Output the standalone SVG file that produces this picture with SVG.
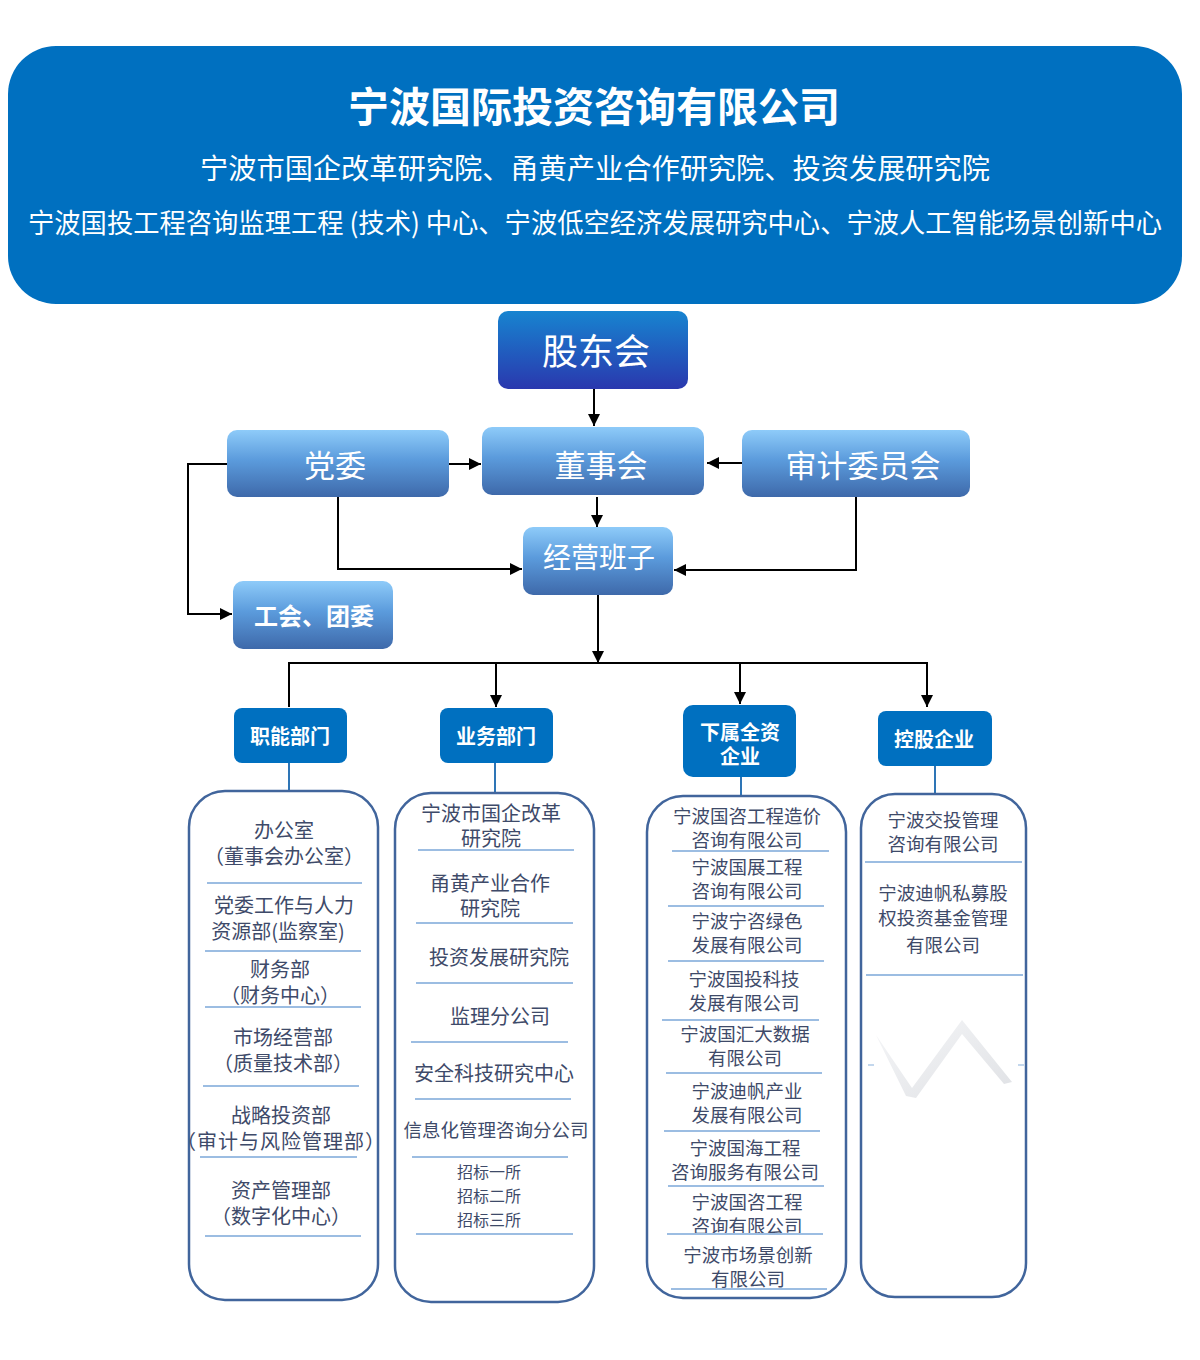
<svg xmlns="http://www.w3.org/2000/svg" width="1200" height="1360" viewBox="0 0 1200 1360">
<defs>
<linearGradient id="gTop" x1="0" y1="0" x2="0" y2="1">
<stop offset="0" stop-color="#1784d0"/><stop offset="1" stop-color="#2a38ae"/>
</linearGradient>
<linearGradient id="gMid" x1="0" y1="0" x2="0" y2="1">
<stop offset="0" stop-color="#8ecbf9"/><stop offset="0.45" stop-color="#5b9bdc"/><stop offset="1" stop-color="#3e69aa"/>
</linearGradient>
<linearGradient id="gWm" x1="0" y1="0" x2="1" y2="1">
<stop offset="0" stop-color="#f4f5f7"/><stop offset="1" stop-color="#dcdee2"/>
</linearGradient>
<marker id="arr" markerUnits="userSpaceOnUse" markerWidth="14" markerHeight="12" refX="12" refY="6" orient="auto" viewBox="0 0 14 12">
<path d="M0,0 L12,6 L0,12 z" fill="#000"/>
</marker>
<style>
text{font-family:"Noto Sans CJK SC","Noto Sans",sans-serif;}
.hdr{fill:#ffffff;text-anchor:middle;dominant-baseline:central;}
.wt{fill:#ffffff;text-anchor:middle;dominant-baseline:central;}
.cat{fill:#0070c0;}
.catt{fill:#ffffff;text-anchor:middle;dominant-baseline:central;font-size:20px;font-weight:bold;}
.list{fill:#ffffff;stroke:#41659c;stroke-width:2.5;}
.it{fill:#3e4a69;text-anchor:middle;dominant-baseline:central;font-size:20px;}
.it18{fill:#3e4a69;text-anchor:middle;dominant-baseline:central;font-size:18.5px;}
.it16{fill:#3e4a69;text-anchor:middle;dominant-baseline:central;font-size:16px;}
.sep{stroke:#9cbde2;stroke-width:2;}
.conn{fill:none;stroke:#000;stroke-width:2;}
.stem{stroke:#2e75b6;stroke-width:2;}
</style>
</defs>
<rect width="1200" height="1360" fill="#ffffff"/>

<g id="header">
<rect x="8" y="46" width="1174" height="258" rx="48" fill="#0070c0"/>
<text class="hdr" x="594" y="104" font-size="41" font-weight="bold">宁波国际投资咨询有限公司</text>
<text class="hdr" x="595" y="167" font-size="28" textLength="790" lengthAdjust="spacingAndGlyphs">宁波市国企改革研究院、甬黄产业合作研究院、投资发展研究院</text>
<text class="hdr" x="595" y="221" font-size="27" textLength="1134" lengthAdjust="spacingAndGlyphs">宁波国投工程咨询监理工程 (技术) 中心、宁波低空经济发展研究中心、宁波人工智能场景创新中心</text>
</g>

<g id="connectors">
<line class="conn" x1="594" y1="389" x2="594" y2="426" marker-end="url(#arr)"/>
<line class="conn" x1="449" y1="464" x2="481" y2="464" marker-end="url(#arr)"/>
<line class="conn" x1="742" y1="463" x2="707" y2="463" marker-end="url(#arr)"/>
<line class="conn" x1="597" y1="497" x2="597" y2="527" marker-end="url(#arr)"/>
<polyline class="conn" points="338,497 338,569 522,569" marker-end="url(#arr)"/>
<polyline class="conn" points="856,497 856,570 674,570" marker-end="url(#arr)"/>
<polyline class="conn" points="227,464 188,464 188,614 232,614" marker-end="url(#arr)"/>
<line class="conn" x1="598" y1="595" x2="598" y2="663" marker-end="url(#arr)"/>
<polyline class="conn" points="289,707 289,663 927,663 927,707" marker-end="url(#arr)"/>
<line class="conn" x1="496" y1="663" x2="496" y2="707" marker-end="url(#arr)"/>
<line class="conn" x1="740" y1="663" x2="740" y2="704" marker-end="url(#arr)"/>
<line class="stem" x1="289" y1="763" x2="289" y2="791"/>
<line class="stem" x1="495" y1="763" x2="495" y2="793"/>
<line class="stem" x1="741" y1="777" x2="741" y2="796"/>
<line class="stem" x1="935" y1="766" x2="935" y2="794"/>
</g>

<g id="gudonghui">
<rect x="498" y="311" width="190" height="78" rx="10" fill="url(#gTop)"/>
<text class="wt" x="596" y="349" font-size="36">股东会</text>
</g>
<g id="dangwei">
<rect x="227" y="430" width="222" height="67" rx="10" fill="url(#gMid)"/>
<text class="wt" x="335" y="463" font-size="31">党委</text>
</g>
<g id="dongshihui">
<rect x="482" y="427" width="222" height="68" rx="10" fill="url(#gMid)"/>
<text class="wt" x="601" y="463" font-size="31">董事会</text>
</g>
<g id="shenji">
<rect x="742" y="430" width="228" height="67" rx="10" fill="url(#gMid)"/>
<text class="wt" x="863" y="463" font-size="31">审计委员会</text>
</g>
<g id="jingying">
<rect x="523" y="527" width="150" height="68" rx="10" fill="url(#gMid)"/>
<text class="wt" x="599" y="556" font-size="28">经营班子</text>
</g>
<g id="gonghui">
<rect x="233" y="581" width="160" height="68" rx="10" fill="url(#gMid)"/>
<text class="wt" x="314" y="614" font-size="24" font-weight="bold">工会、团委</text>
</g>

<g id="cat-zhineng">
<rect class="cat" x="234" y="708" width="113" height="55" rx="8"/>
<text class="catt" x="290" y="735">职能部门</text>
</g>
<g id="cat-yewu">
<rect class="cat" x="440" y="708" width="113" height="55" rx="8"/>
<text class="catt" x="496" y="735">业务部门</text>
</g>
<g id="cat-xiashu">
<rect class="cat" x="683" y="705" width="113" height="72" rx="10"/>
<text class="catt" x="740" y="731">下属全资</text>
<text class="catt" x="740" y="755">企业</text>
</g>
<g id="cat-konggu">
<rect class="cat" x="878" y="711" width="114" height="55" rx="8"/>
<text class="catt" x="934" y="738">控股企业</text>
</g>

<g id="list-zhineng">
<rect class="list" x="189" y="791" width="189" height="509" rx="36"/>
<text class="it" x="284" y="829">办公室</text>
<text class="it" x="284" y="855">（董事会办公室）</text>
<line class="sep" x1="207" y1="883" x2="362" y2="883"/>
<text class="it" x="284" y="904">党委工作与人力</text>
<text class="it" x="278" y="930">资源部(监察室)</text>
<line class="sep" x1="205" y1="951" x2="361" y2="951"/>
<text class="it" x="280" y="968">财务部</text>
<text class="it" x="280" y="994">（财务中心）</text>
<line class="sep" x1="205" y1="1007" x2="361" y2="1007"/>
<text class="it" x="283" y="1036">市场经营部</text>
<text class="it" x="283" y="1062">（质量技术部）</text>
<line class="sep" x1="203" y1="1086" x2="359" y2="1086"/>
<text class="it" x="281" y="1114">战略投资部</text>
<text class="it" x="281" y="1140" letter-spacing="1">（审计与风险管理部）</text>
<line class="sep" x1="200" y1="1157" x2="357" y2="1157"/>
<text class="it" x="281" y="1189">资产管理部</text>
<text class="it" x="281" y="1215">（数字化中心）</text>
<line class="sep" x1="205" y1="1236" x2="361" y2="1236"/>
</g>

<g id="list-yewu">
<rect class="list" x="395" y="793" width="199" height="509" rx="36"/>
<text class="it" x="491" y="812">宁波市国企改革</text>
<text class="it" x="491" y="837">研究院</text>
<line class="sep" x1="418" y1="850" x2="574" y2="850"/>
<text class="it" x="490" y="882">甬黄产业合作</text>
<text class="it" x="490" y="907">研究院</text>
<line class="sep" x1="416" y1="923" x2="573" y2="923"/>
<text class="it" x="499" y="956">投资发展研究院</text>
<line class="sep" x1="416" y1="983" x2="573" y2="983"/>
<text class="it" x="500" y="1015">监理分公司</text>
<line class="sep" x1="411" y1="1042" x2="568" y2="1042"/>
<text class="it" x="494" y="1072">安全科技研究中心</text>
<line class="sep" x1="415" y1="1099" x2="571" y2="1099"/>
<text class="it18" x="496" y="1129" font-size="18">信息化管理咨询分公司</text>
<line class="sep" x1="412" y1="1157" x2="568" y2="1157"/>
<text class="it16" x="489" y="1171">招标一所</text>
<text class="it16" x="489" y="1195">招标二所</text>
<text class="it16" x="489" y="1219">招标三所</text>
<line class="sep" x1="416" y1="1234" x2="573" y2="1234"/>
</g>

<g id="list-xiashu">
<rect class="list" x="647" y="796" width="199" height="502" rx="36"/>
<text class="it18" x="747" y="815">宁波国咨工程造价</text>
<text class="it18" x="747" y="839">咨询有限公司</text>
<line class="sep" x1="672" y1="851" x2="829" y2="851"/>
<text class="it18" x="747" y="866">宁波国展工程</text>
<text class="it18" x="747" y="890">咨询有限公司</text>
<line class="sep" x1="668" y1="906" x2="824" y2="906"/>
<text class="it18" x="747" y="920">宁波宁咨绿色</text>
<text class="it18" x="747" y="944">发展有限公司</text>
<line class="sep" x1="668" y1="961" x2="824" y2="961"/>
<text class="it18" x="744" y="978">宁波国投科技</text>
<text class="it18" x="744" y="1002">发展有限公司</text>
<line class="sep" x1="662" y1="1020" x2="819" y2="1020"/>
<text class="it18" x="745" y="1033">宁波国汇大数据</text>
<text class="it18" x="745" y="1057">有限公司</text>
<line class="sep" x1="666" y1="1073" x2="822" y2="1073"/>
<text class="it18" x="747" y="1090">宁波迪帆产业</text>
<text class="it18" x="747" y="1114">发展有限公司</text>
<line class="sep" x1="664" y1="1131" x2="820" y2="1131"/>
<text class="it18" x="745" y="1147">宁波国海工程</text>
<text class="it18" x="745" y="1171">咨询服务有限公司</text>
<line class="sep" x1="668" y1="1186" x2="824" y2="1186"/>
<text class="it18" x="747" y="1201">宁波国咨工程</text>
<text class="it18" x="747" y="1225">咨询有限公司</text>
<line class="sep" x1="667" y1="1234" x2="823" y2="1234"/>
<text class="it18" x="748" y="1254">宁波市场景创新</text>
<text class="it18" x="748" y="1278">有限公司</text>
<line class="sep" x1="671" y1="1289" x2="827" y2="1289"/>
</g>

<g id="list-konggu">
<rect class="list" x="861" y="794" width="165" height="503" rx="34"/>
<text class="it18" x="943" y="819">宁波交投管理</text>
<text class="it18" x="943" y="843">咨询有限公司</text>
<line class="sep" x1="865" y1="862" x2="1022" y2="862"/>
<text class="it18" x="943" y="892">宁波迪帆私募股</text>
<text class="it18" x="943" y="917">权投资基金管理</text>
<text class="it18" x="943" y="944">有限公司</text>
<line class="sep" x1="866" y1="975" x2="1023" y2="975"/>
<line class="sep" x1="868" y1="1065" x2="874" y2="1065" opacity="0.6"/>
<line class="sep" x1="1018" y1="1065" x2="1024" y2="1065" opacity="0.6"/>
<polygon points="876,1035 912,1088 962,1020 1012,1082 1004,1084 962,1034 916,1098 906,1096" fill="url(#gWm)" opacity="0.9"/>
</g>
</svg>
